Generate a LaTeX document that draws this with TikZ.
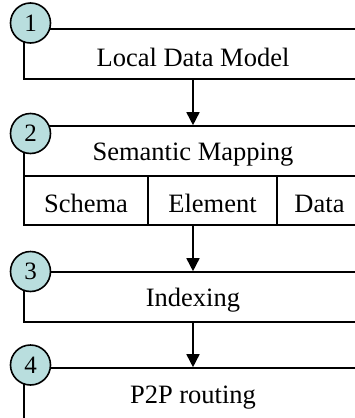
\documentclass[tikz,border=0pt]{standalone}
\usepackage{fontspec}
\setmainfont{Liberation Serif}
\usetikzlibrary{arrows.meta}
\definecolor{badgefill}{RGB}{185,222,222}
\begin{document}
\begin{tikzpicture}[x=1pt,y=-1pt,
  line width=1.6pt,
  txt/.style={font=\fontsize{26.5}{30}\selectfont, text height=25pt},
  stage/.style={draw, rectangle, minimum width=338pt, minimum height=50pt, inner sep=0pt, txt},
  cell/.style={draw, rectangle, minimum height=49pt, inner sep=0pt, txt},
  badge/.style={draw, circle, fill=badgefill, minimum size=40pt, inner sep=0pt, font=\fontsize{25}{28}\selectfont},
  flow/.style={-{Triangle[length=13pt,width=13pt]}}
]
\clip (0,0) rectangle (355,418);

% processing stages
\node[stage] (model) at (193,54) {Local Data Model};
\node[stage] (map) at (193,151) {Semantic Mapping};
\node[cell, minimum width=124pt] (schema) at (86,200.5) {Schema};
\node[cell, minimum width=129pt] (element) at (212.5,200.5) {Element\hspace{6pt}};
\node[cell, minimum width=85pt] (data) at (319.5,200.5) {Data};
\node[stage] (idx) at (193,297) {Indexing};
\node[stage, minimum height=52pt] (route) at (193,394) {P2P routing};

% flow between stages
\draw[flow] (model.south) -- (map.north);
\draw[flow] (map.south |- element.south) -- (idx.north);
\draw[flow] (idx.south) -- (route.north);

% step numbers
\node[badge] (n1) at (30.5,23) {1};
\node[badge] (n2) at (30.5,133.5) {2};
\node[badge] (n3) at (30.5,271.5) {3};
\node[badge] (n4) at (30.5,365) {4};
\end{tikzpicture}
\end{document}
